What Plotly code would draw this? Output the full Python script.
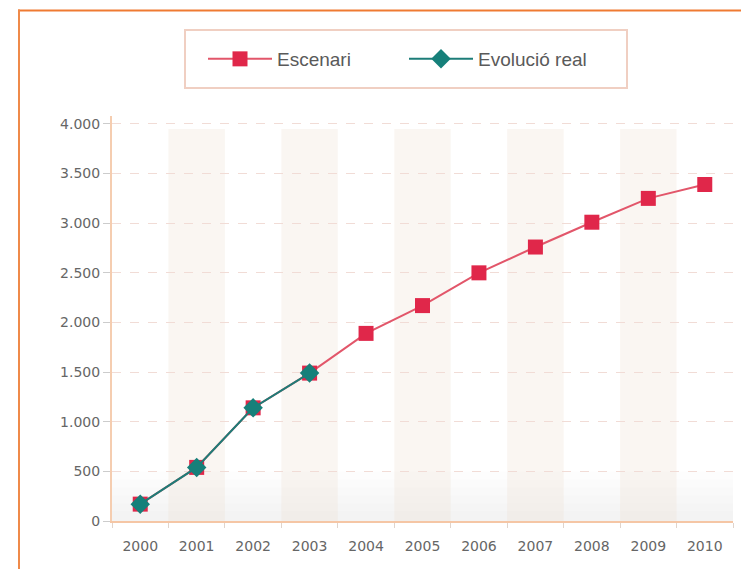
import plotly.graph_objects as go

years = ["2000", "2001", "2002", "2003", "2004", "2005", "2006", "2007", "2008", "2009", "2010"]
escenari = [170, 540, 1140, 1490, 1890, 2170, 2500, 2760, 3010, 3250, 3390]
real_years = ["2000", "2001", "2002", "2003"]
evolucio_real = [170, 540, 1140, 1490]
y_tickvals = [0, 500, 1000, 1500, 2000, 2500, 3000, 3500, 4000]
y_ticktext = ["0", "500", "1.000", "1.500", "2.000", "2.500", "3.000", "3.500", "4.000"]
shaded_years = [1, 3, 5, 7, 9]

# figure coords (page body adds an 8px offset)
W, H = 741, 561
L, T, R, B = 104, 108, 16, 48
PW, PH = W - L - R, H - T - B


def px_x(p):
    return (p - L) / PW


def px_y(p):
    return (H - B - p) / PH


fig = go.Figure()
fig.add_trace(go.Scatter(
    x=years, y=escenari, name="Escenari", mode="lines+markers",
    line=dict(color="#e2566a", width=2),
    marker=dict(symbol="square", size=15, color="#e0274a"),
))
fig.add_trace(go.Scatter(
    x=real_years, y=evolucio_real, name="Evolució real", mode="lines+markers",
    line=dict(color="#1d7d78", width=2),
    marker=dict(symbol="diamond", size=15, color="#16807a"),
))

shapes = []
for i in shaded_years:
    shapes.append(dict(type="rect", xref="x", yref="y", x0=i - 0.5, x1=i + 0.5,
                       y0=0, y1=3950, fillcolor="rgba(238,224,208,0.28)",
                       line=dict(width=0), layer="below"))
for k in range(6):
    shapes.append(dict(type="rect", xref="paper", yref="y", x0=0, x1=1,
                       y0=0, y1=500 - k * 80, fillcolor="rgba(225,225,225,0.07)",
                       line=dict(width=0), layer="below"))
# outer orange frame
shapes.append(dict(type="line", xref="paper", yref="paper",
                   x0=px_x(10), x1=px_x(W + 5), y0=px_y(2.5), y1=px_y(2.5),
                   line=dict(color="#ef7a32", width=2)))
shapes.append(dict(type="line", xref="paper", yref="paper",
                   x0=px_x(11), x1=px_x(11), y0=px_y(1.5), y1=px_y(H + 5),
                   line=dict(color="#ef8a4a", width=2)))
# legend box
shapes.append(dict(type="rect", xref="paper", yref="paper",
                   x0=px_x(177), x1=px_x(619), y0=px_y(80), y1=px_y(22),
                   line=dict(color="#f0cfc2", width=2), fillcolor="rgba(0,0,0,0)"))

tick_font = dict(family="DejaVu Sans, sans-serif", size=14, color="#666666")

fig.update_layout(
    width=W, height=H,
    margin=dict(l=L, r=R, t=T, b=B),
    paper_bgcolor="white", plot_bgcolor="white",
    font=dict(family="Liberation Sans, Arial, sans-serif", color="#555555"),
    showlegend=True,
    legend=dict(orientation="h", x=px_x(195), xanchor="left", y=px_y(51),
                yanchor="middle", font=dict(size=19, color="#5a5a5a"),
                bgcolor="rgba(0,0,0,0)", itemwidth=64, traceorder="normal",
                entrywidth=122, entrywidthmode="pixels"),
    shapes=shapes,
    xaxis=dict(type="category", range=[-0.5, 10.5], showgrid=False,
               showline=True, linecolor="#f5c6a5", linewidth=2,
               ticks="outside", tickson="boundaries", ticklen=5, tickcolor="#e0d4cc",
               tickfont=tick_font, ticklabelstandoff=11, zeroline=False),
    yaxis=dict(range=[0, 4080], tickvals=y_tickvals, ticktext=y_ticktext,
               showgrid=True, gridcolor="#f1dcd6", griddash="dash", gridwidth=1,
               showline=True, linecolor="#f5cdb0", linewidth=2,
               ticks="outside", ticklen=7, tickcolor="#cccccc",
               tickfont=tick_font, zeroline=False),
)

fig.write_html("out.html")
